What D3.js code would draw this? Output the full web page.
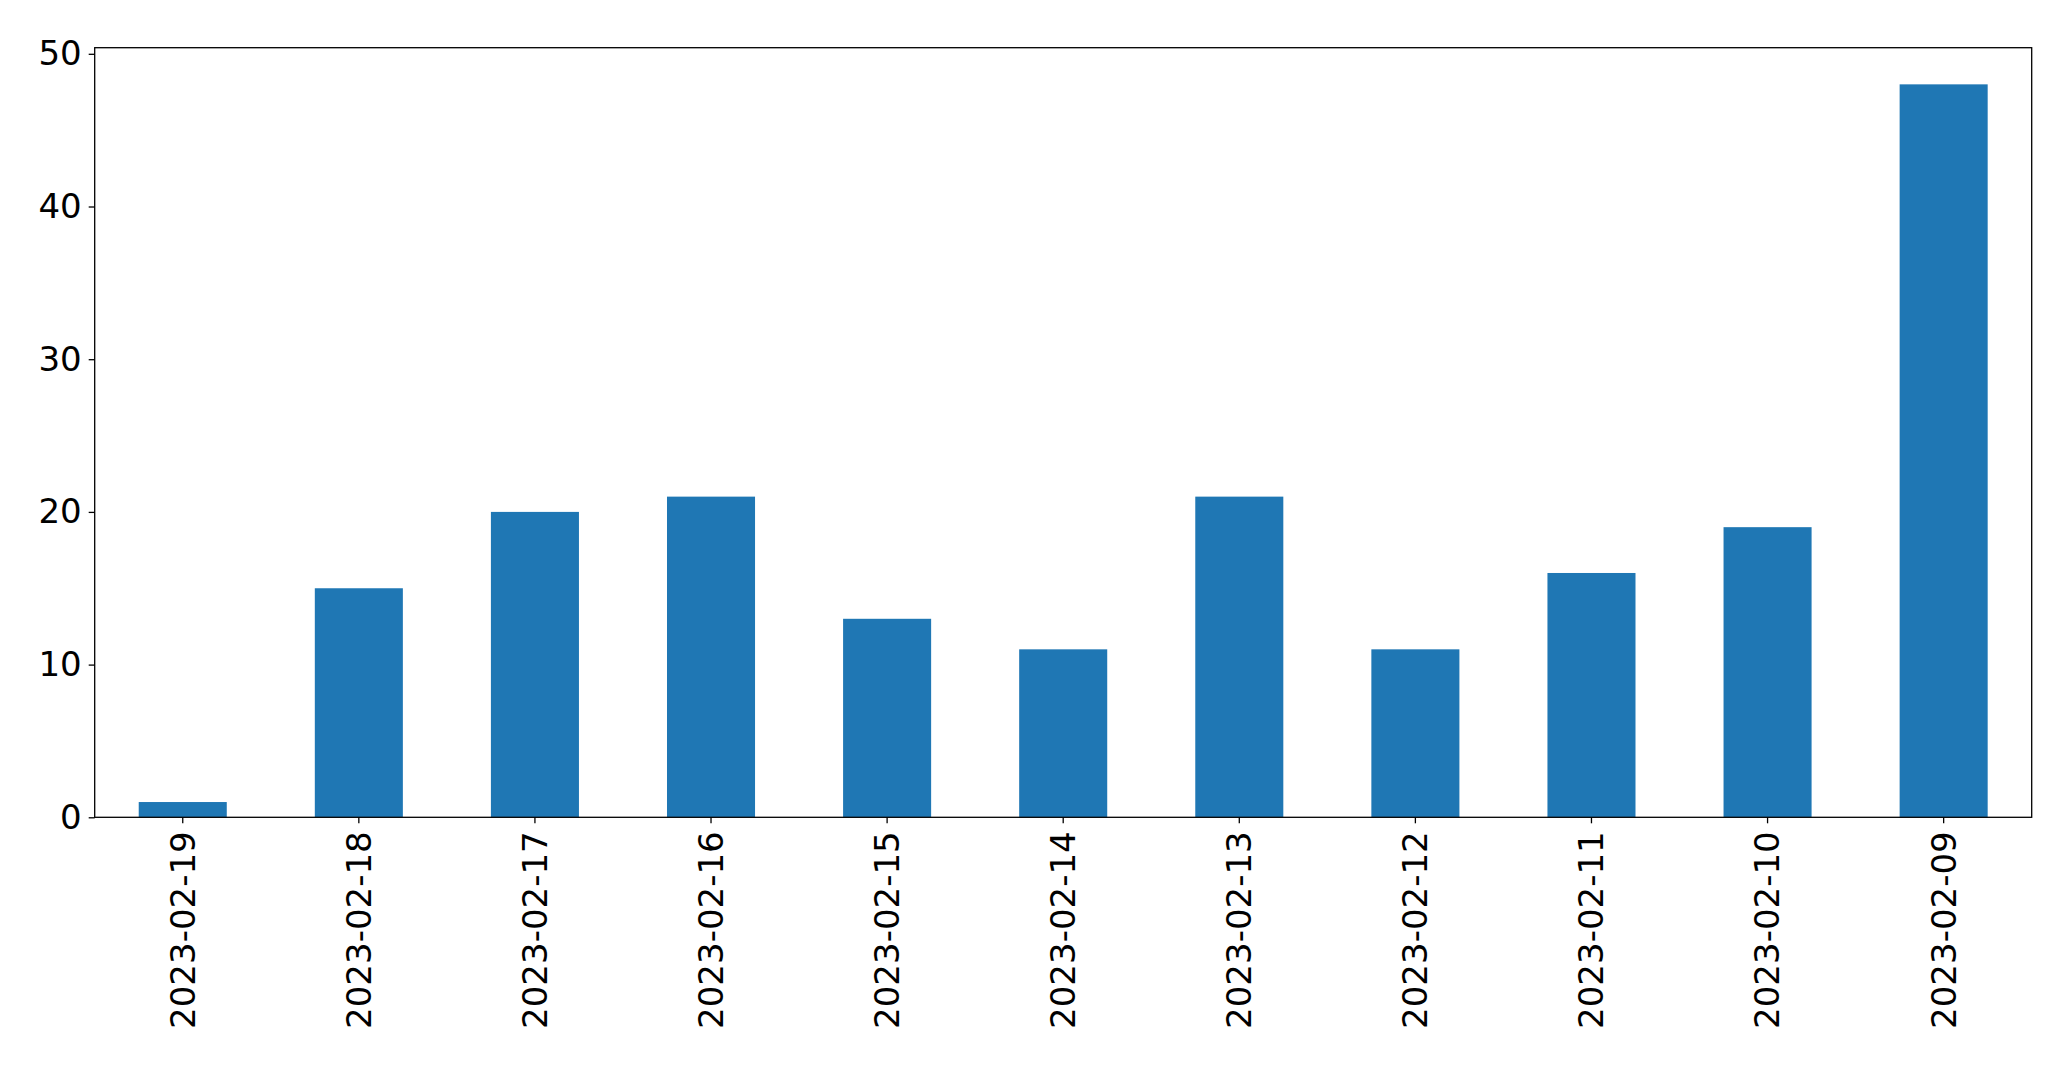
<!DOCTYPE html>
<html><head><meta charset="utf-8">
<script src="https://cdn.jsdelivr.net/npm/d3@7"></script>
<style>body{margin:0;background:#fff}svg{display:block}text{font-family:"DejaVu Sans",sans-serif}</style>
</head><body>
<svg id="c" width="2071" height="1069"></svg>
<script>
const categories = ["2023-02-19","2023-02-18","2023-02-17","2023-02-16","2023-02-15","2023-02-14","2023-02-13","2023-02-12","2023-02-11","2023-02-10","2023-02-09"];
const values = [1,15,20,21,13,11,21,11,16,19,48];
const yTicks = [0,10,20,30,40,50];

const W=2071,H=1069;
const m={left:94.7,right:2031.7,top:47.7,bottom:817.3};
const svg=d3.select("#c");
const x=d3.scaleBand().domain(categories).range([m.left,m.right]).paddingInner(0.5).paddingOuter(0.25);
const y=d3.scaleLinear().domain([0,50.4]).range([m.bottom,m.top]);

svg.append("g").selectAll("rect").data(values).join("rect")
  .attr("x",(d,i)=>x(categories[i])).attr("width",x.bandwidth())
  .attr("y",d=>y(d)).attr("height",d=>y(0)-y(d)).attr("fill","#1f77b4");

const fs=34;
const ya=svg.append("g").attr("transform",`translate(${m.left},0)`)
  .call(d3.axisLeft(y).tickValues(yTicks).tickSize(6).tickPadding(7).tickFormat(d3.format("d")));
ya.select(".domain").remove();
ya.selectAll("text").attr("font-size",fs).attr("fill","#000").style("font-family","DejaVu Sans");
ya.selectAll("line").attr("stroke","#000").attr("stroke-width",1.3);

const xa=svg.append("g").attr("transform",`translate(0,${m.bottom})`)
  .call(d3.axisBottom(x).tickSize(6).tickPadding(8));
xa.select(".domain").remove();
xa.selectAll("line").attr("stroke","#000").attr("stroke-width",1.3);
xa.selectAll("text").attr("font-size",fs).attr("fill","#000").style("font-family","DejaVu Sans")
  .attr("transform","rotate(-90)").attr("text-anchor","end").attr("dy","0.35em").attr("x",-14).attr("y",0);

svg.append("rect").attr("x",m.left).attr("y",m.top).attr("width",m.right-m.left).attr("height",m.bottom-m.top)
  .attr("fill","none").attr("stroke","#000").attr("stroke-width",1.3);
</script>
</body></html>
